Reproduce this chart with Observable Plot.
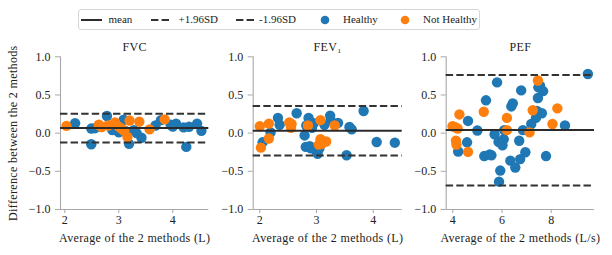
<!DOCTYPE html>
<html><head><meta charset="utf-8">
<script src="https://cdn.jsdelivr.net/npm/d3@7"></script>
<script src="https://cdn.jsdelivr.net/npm/@observablehq/plot@0.6"></script>
<style>
body{margin:0;background:#fff;}
#root{position:relative;width:612px;height:255px;overflow:hidden;font-family:"Liberation Serif",serif;color:#222;background:#fff;}
.panel{position:absolute;top:35px;height:220px;}
.panel svg{overflow:visible;background:transparent;font-family:"Liberation Serif",serif;}
.panel svg text{font-family:"Liberation Serif",serif;}
g[aria-label="text"] text{letter-spacing:0.35px;}
#legend{position:absolute;left:78px;top:9px;width:400px;height:19px;border:1px solid #d6d6d6;border-radius:3px;font-size:11px;font-family:"Liberation Serif",serif;}
#legend .it{position:absolute;top:0;height:19px;line-height:19px;white-space:nowrap;}
#legend svg{position:absolute;top:0;}
</style></head><body><div id="root"><div id="legend"></div></div>
<script>
// ---- data ----
const yTicks = [-1, -0.5, 0, 0.5, 1];
const panelTitles = ["FVC", "FEV\u2081", "PEF"];
const xLabels = ["Average of the 2 methods (L)", "Average of the 2 methods (L)", "Average of the 2 methods (L/s)"];
const yLabel = "Difference between the 2 methods";
const legendLabels = ["mean", "+1.96SD", "-1.96SD", "Healthy", "Not Healthy"];

const fvcTicks = [2, 3, 4];
const fev1Ticks = [2, 3, 4];
const pefTicks = [4, 6, 8];

// [mean, +1.96SD, -1.96SD]
const fvcStats = [0.066, 0.255, -0.124];
const fev1Stats = [0.031, 0.355, -0.292];
const pefStats = [0.04, 0.76, -0.686];

const fvcHealthy = [[2.19,0.13],[2.49,0.06],[2.49,-0.145],[2.56,0.065],[2.78,0.225],[2.88,0.04],[3.0,0.01],[3.09,0.175],[3.12,0.03],[3.19,-0.14],[3.28,0.04],[3.33,0.0],[3.42,-0.06],[3.68,0.1],[3.78,0.17],[3.96,0.11],[4.0,0.085],[4.06,0.125],[4.2,0.076],[4.25,-0.18],[4.3,0.084],[4.45,0.125],[4.53,0.03]];
const fvcNotHealthy = [[2.03,0.095],[2.63,0.11],[2.68,0.08],[2.80,0.1],[2.93,0.14],[3.0,0.085],[3.05,0.06],[3.10,0.03],[3.16,-0.05],[3.20,0.165],[3.38,0.15],[3.57,0.05],[3.85,0.18]];

const fev1Healthy = [[2.05,-0.12],[2.19,0.01],[2.32,0.2],[2.35,0.11],[2.65,0.26],[2.79,-0.03],[2.81,-0.18],[2.82,0.1],[2.86,0.2],[2.88,-0.17],[2.92,0.07],[2.95,0.13],[2.9,-0.2],[2.98,-0.22],[3.02,-0.27],[3.05,-0.2],[3.14,0.11],[3.24,0.23],[3.25,0.17],[3.38,0.135],[3.53,-0.29],[3.58,0.08],[3.62,0.05],[3.83,0.29],[4.06,-0.116],[4.38,-0.125]];
const fev1NotHealthy = [[2.0,0.09],[2.02,-0.19],[2.16,0.125],[2.16,-0.07],[2.52,0.14],[2.56,0.12],[2.55,0.07],[2.85,0.1],[3.07,0.17],[3.07,-0.08],[3.04,-0.15],[3.09,-0.14],[3.17,-0.11],[3.32,0.1]];

const pefHealthy = [[4.22,-0.24],[4.58,-0.12],[4.62,0.16],[5.0,0.035],[5.28,-0.3],[5.35,0.43],[5.57,-0.29],[5.5,-0.28],[5.7,-0.015],[5.8,0.665],[5.86,-0.115],[5.93,-0.49],[5.88,-0.635],[6.02,-0.16],[6.07,-0.08],[6.09,0.04],[6.34,-0.36],[6.38,0.35],[6.44,0.39],[6.54,-0.45],[6.7,-0.1],[6.78,0.56],[6.74,-0.34],[6.85,0.04],[6.95,-0.25],[7.19,0.12],[7.38,0.2],[7.46,0.46],[7.48,0.6],[7.55,0.62],[7.62,0.26],[7.67,0.55],[7.42,0.29],[7.79,-0.3],[8.56,0.1],[9.49,0.775]];
const pefNotHealthy = [[3.99,0.09],[4.08,0.08],[4.2,0.06],[4.13,-0.1],[4.15,-0.15],[4.27,0.245],[4.62,-0.245],[5.26,0.28],[6.2,0.2],[6.2,0.04],[7.12,0.01],[7.25,0.3],[7.46,0.69],[8.05,0.12],[8.25,0.325]];

// ---- layout ----
const COLORS = {healthy: "#1f77b4", not: "#ff7f0e", line: "#2b2b2b", axis: "#a8a8a8", text: "#222"};
const FONT = "Liberation Serif";

function makePanel(o) {
  const toRows = arr => arr.map(([x, y]) => ({x, y}));
  const axisStyle = {stroke: COLORS.axis, fill: COLORS.text, fontSize: 12, label: null};
  const marks = [
    Plot.ruleX([o.xdomain[0]], {stroke: COLORS.axis, strokeWidth: 1.1}),
    Plot.ruleY([-1], {stroke: COLORS.axis, strokeWidth: 1.1}),
    Plot.axisY({...axisStyle, ticks: yTicks, tickFormat: d3.format(".1f"), tickSize: 5, tickPadding: 5}),
    Plot.axisX({...axisStyle, ticks: o.xticks, tickFormat: d3.format("d"), tickSize: 4, tickPadding: 2}),
    Plot.dot(toRows(o.healthy), {x: "x", y: "y", r: 5.2, fill: COLORS.healthy}),
    Plot.dot(toRows(o.not), {x: "x", y: "y", r: 5.2, fill: COLORS.not}),
    Plot.ruleY([o.stats[0]], {stroke: COLORS.line, strokeWidth: 2}),
    Plot.ruleY(o.stats.slice(1), {stroke: "#333", strokeWidth: 2, strokeDasharray: "7.4,3.2"}),
    Plot.text([o.title], {frameAnchor: "top", dy: -9.8, lineAnchor: "middle", fontSize: 12, fill: COLORS.text}),
    Plot.text([o.xlabel], {frameAnchor: "bottom", dy: 29, lineAnchor: "middle", fontSize: 12, fill: COLORS.text})
  ];
  if (o.ylabel) marks.push(Plot.text([o.ylabel], {frameAnchor: "left", dx: -47, rotate: -90, textAnchor: "middle", lineAnchor: "middle", fontSize: 12, fill: COLORS.text}));
  const svg = Plot.plot({
    width: o.width, height: 220,
    marginLeft: o.ml, marginRight: o.mr, marginTop: 21.3, marginBottom: 46,
    style: {fontFamily: FONT, fontSize: "12px", color: COLORS.text, background: "transparent", overflow: "visible"},
    x: {domain: o.xdomain},
    y: {domain: [-1, 1]},
    marks
  });
  const div = document.createElement("div");
  div.className = "panel";
  div.style.left = o.left + "px";
  div.style.width = o.width + "px";
  div.appendChild(svg);
  document.getElementById("root").appendChild(div);
}

makePanel({left: 0, width: 215, ml: 60, mr: 6.7, xdomain: [1.92, 4.667], xticks: fvcTicks, stats: fvcStats,
  healthy: fvcHealthy, not: fvcNotHealthy, title: panelTitles[0], xlabel: xLabels[0], ylabel: yLabel});
makePanel({left: 215, width: 195, ml: 37.7, mr: 8.3, xdomain: [1.884, 4.51], xticks: fev1Ticks, stats: fev1Stats,
  healthy: fev1Healthy, not: fev1NotHealthy, title: panelTitles[1], xlabel: xLabels[1]});
makePanel({left: 410, width: 202, ml: 35.7, mr: 18, xdomain: [3.733, 9.76], xticks: pefTicks, stats: pefStats,
  healthy: pefHealthy, not: pefNotHealthy, title: panelTitles[2], xlabel: xLabels[2]});

// ---- legend ----
const legend = document.getElementById("legend");
const ns = "http://www.w3.org/2000/svg";
function swatch(left, kind) {
  const s = document.createElementNS(ns, "svg");
  s.setAttribute("width", 24); s.setAttribute("height", 19);
  s.style.left = left + "px";
  if (kind === "dot" || kind === "dot2") {
    const c = document.createElementNS(ns, "circle");
    c.setAttribute("cx", 12); c.setAttribute("cy", 10); c.setAttribute("r", 4.3);
    c.setAttribute("fill", kind === "dot" ? COLORS.healthy : COLORS.not);
    s.appendChild(c);
  } else {
    const l = document.createElementNS(ns, "line");
    l.setAttribute("x1", 2); l.setAttribute("x2", 23); l.setAttribute("y1", 10); l.setAttribute("y2", 10);
    l.setAttribute("stroke", kind === "solid" ? COLORS.line : "#333");
    l.setAttribute("stroke-width", 2);
    if (kind === "dash") l.setAttribute("stroke-dasharray", "7.4,3.2");
    s.appendChild(l);
  }
  legend.appendChild(s);
}
function label(left, text) {
  const sp = document.createElement("span");
  sp.className = "it"; sp.style.left = left + "px"; sp.textContent = text;
  legend.appendChild(sp);
}
swatch(0, "solid"); label(29.5, legendLabels[0]);
swatch(70, "dash"); label(99.5, legendLabels[1]);
swatch(154.5, "dash"); label(180, legendLabels[2]);
swatch(234, "dot"); label(264, legendLabels[3]);
swatch(313.5, "dot2"); label(344, legendLabels[4]);
</script>
</body></html>
